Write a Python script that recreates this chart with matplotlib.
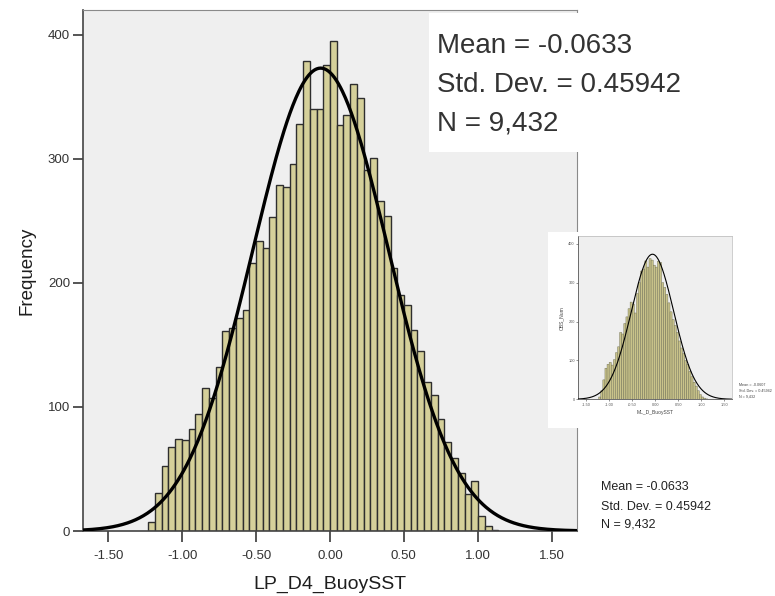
import numpy as np
import matplotlib
matplotlib.use("Agg")
import matplotlib.pyplot as plt
from matplotlib.patches import Rectangle

plt.rcParams['font.family'] = ['Liberation Sans', 'DejaVu Sans']

# ---- main histogram: LP_D4_BuoySST ----
main_bin_width = 0.04556
main_first_edge = -1.2301
main_counts = [7, 31, 52, 68, 74, 73, 82, 94, 115, 107,
               132, 161, 164, 172, 178, 216, 234, 228, 253, 279,
               277, 296, 328, 379, 340, 340, 376, 395, 327, 335,
               360, 349, 291, 301, 266, 254, 212, 190, 182, 162,
               145, 120, 110, 90, 72, 59, 47, 30, 40, 12,
               4, 1]
main_mean = -0.0633
main_sd = 0.45942
main_n = 9432
main_stats = ["Mean = -0.0633", "Std. Dev. = 0.45942", "N = 9,432"]

# ---- small histogram: ML_D_BuoySST ----
small_counts = [6, 22, 50, 80, 90, 95, 88, 102, 120, 135,
                172, 168, 195, 212, 233, 250, 245, 222, 272, 300,
                330, 335, 356, 340, 362, 358, 345, 340, 355, 352,
                300, 288, 270, 248, 225, 205, 190, 172, 150, 132,
                118, 100, 90, 72, 58, 44, 34, 22, 12, 6,
                3, 1]
small_mean = -0.0607
small_sd = 0.45942
small_n = 9432
small_stats = ["Mean = -0.0607", "Std. Dev. = 0.45942", "N = 9,432"]

xticks = [-1.5, -1.0, -0.5, 0.0, 0.5, 1.0, 1.5]
xtick_labels = ["-1.50", "-1.00", "-0.50", "0.00", "0.50", "1.00", "1.50"]
yticks = [0, 100, 200, 300, 400]

W, H = 775, 596
BAR_FACE = "#D5D09A"
BAR_EDGE = "#2E2E2E"
PANEL = "#EFEFEF"
XLIM = (-1.672, 1.672)
YLIM = (0, 420)


def fx(px):
    return px / W


def fy(py):
    return 1 - py / H


def normal_curve(mean, sd, n, width, xs):
    return n * width * np.exp(-0.5 * ((xs - mean) / sd) ** 2) / (sd * np.sqrt(2 * np.pi))


fig = plt.figure(figsize=(W / 100, H / 100), dpi=100)
fig.patch.set_facecolor("white")

# main axes
ax = fig.add_axes([fx(83), fy(531), fx(577 - 83), (531 - 10) / H])
ax.set_facecolor(PANEL)
edges = main_first_edge + main_bin_width * np.arange(len(main_counts) + 1)
ax.bar(edges[:-1], main_counts, width=main_bin_width, align="edge",
       color=BAR_FACE, edgecolor=BAR_EDGE, linewidth=1.0, zorder=2)
xs = np.linspace(XLIM[0], XLIM[1], 500)
ax.plot(xs, normal_curve(main_mean, main_sd, main_n, main_bin_width, xs),
        color="black", linewidth=2.4, zorder=3)
ax.set_xlim(*XLIM)
ax.set_ylim(*YLIM)
ax.set_xticks(xticks)
ax.set_xticklabels(xtick_labels)
ax.set_yticks(yticks)
ax.tick_params(axis="x", length=8, width=1.4, pad=5.5, labelsize=9.5,
               colors="#555555", labelcolor="#333333")
ax.tick_params(axis="y", length=7.2, width=1.4, pad=2.2, labelsize=9.5,
               colors="#555555", labelcolor="#333333")
for side in ("left", "bottom"):
    ax.spines[side].set_color("#444444")
    ax.spines[side].set_linewidth(1.2)
for side in ("top", "right"):
    ax.spines[side].set_color("#8A8A8A")
    ax.spines[side].set_linewidth(0.8)
ax.set_xlabel("LP_D4_BuoySST", fontsize=14, color="#1E1E1E", labelpad=10)
ax.set_ylabel("Frequency", fontsize=13.5, color="#1E1E1E", labelpad=9,
              fontweight="medium")

# white statistics box in the upper right
fig.patches.append(Rectangle((fx(429), fy(152)), fx(600 - 429), (152 - 12.7) / H,
                             transform=fig.transFigure, facecolor="white",
                             edgecolor="none", zorder=1))
for line, base in zip(main_stats, [53, 92.5, 131]):
    fig.text(fx(437), fy(base), line, fontsize=20, color="#333333",
             va="baseline", ha="left", zorder=3)

# small companion chart on white backing
fig.patches.append(Rectangle((fx(548), fy(428)), fx(775 - 548), (428 - 232) / H,
                             transform=fig.transFigure, facecolor="white",
                             edgecolor="none", zorder=1))
ax2 = fig.add_axes([fx(578.3), fy(399.3), fx(732.3 - 578.3), (399.3 - 236) / H])
ax2.set_zorder(2)
ax2.set_facecolor(PANEL)
small_bars = ax2.bar(edges[:-1], small_counts, width=main_bin_width, align="edge",
                     color="#C9C38A", edgecolor="#6A6A50", linewidth=0.3, zorder=2)
for patch in small_bars:
    patch.set_snap(False)
ax2.plot(xs, normal_curve(small_mean, small_sd, small_n, main_bin_width, xs),
         color="black", linewidth=0.8, zorder=3)
ax2.set_xlim(*XLIM)
ax2.set_ylim(*YLIM)
ax2.set_xticks(xticks)
ax2.set_xticklabels(xtick_labels)
ax2.set_yticks(yticks)
ax2.tick_params(length=1.5, width=0.5, pad=1, labelsize=2.8,
                colors="#666666", labelcolor="#555555")
for side in ("left", "bottom"):
    ax2.spines[side].set_color("#555555")
    ax2.spines[side].set_linewidth(0.6)
for side in ("top", "right"):
    ax2.spines[side].set_color("#AAAAAA")
    ax2.spines[side].set_linewidth(0.4)
ax2.set_xlabel("ML_D_BuoySST", fontsize=3.6, color="#444444", labelpad=2)
ax2.set_ylabel("OBS_Num", fontsize=3.6, color="#444444", labelpad=3)
for line, base in zip(small_stats, [386.5, 392, 397.5]):
    fig.text(fx(739), fy(base), line, fontsize=2.7, color="#444444",
             va="baseline", ha="left", zorder=3)

# repeated statistics beneath the small chart
for line, base in zip(main_stats, [490.5, 509.5, 527.5]):
    fig.text(fx(601), fy(base), line, fontsize=9, color="#222222",
             va="baseline", ha="left")

fig.savefig("out.png", dpi=100)
